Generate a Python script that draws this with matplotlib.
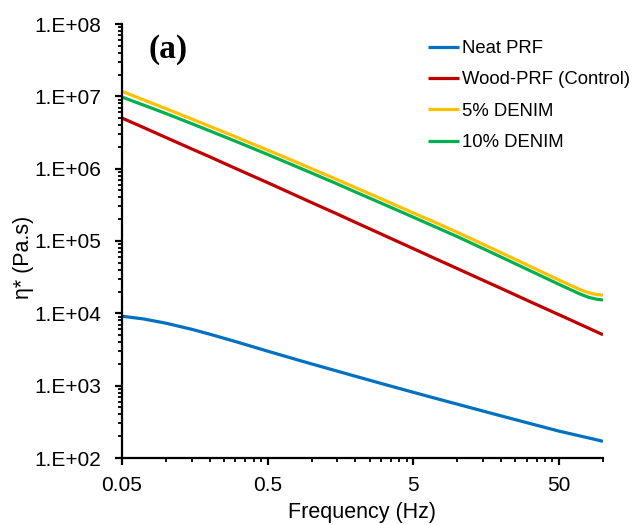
import numpy as np
import matplotlib
matplotlib.use("Agg")
import matplotlib.pyplot as plt
from matplotlib.ticker import FixedLocator, NullFormatter

# Oscillatory frequency sweep: complex viscosity of the resin systems
freq_hz = [0.05, 0.07, 0.1, 0.15, 0.2, 0.3, 0.5, 0.7, 1, 1.5, 2, 3, 5, 7, 10,
           15, 20, 30, 50, 60, 70, 80, 90, 100]

neat_prf = [9120, 8375, 7311, 6026, 5152, 4074, 2999, 2460, 2000, 1589, 1349,
            1074, 809, 673, 555, 446, 382, 308, 235, 216, 201, 189, 179, 170]
wood_prf = [5.01e6, 3.72e6, 2.70e6, 1.88e6, 1.46e6, 1.01e6, 6.40e5, 4.71e5,
            3.40e5, 2.36e5, 1.81e5, 1.25e5, 7.83e4, 5.75e4, 4.16e4, 2.87e4,
            2.21e4, 1.52e4, 9.55e3, 8.09e3, 7.02e3, 6.21e3, 5.57e3, 5.06e3]
denim_5 = [1.175e7, 8.97e6, 6.76e6, 4.88e6, 3.85e6, 2.77e6, 1.80e6, 1.36e6,
           1.00e6, 7.06e5, 5.47e5, 3.84e5, 2.44e5, 1.82e5, 1.32e5, 9.04e4,
           6.89e4, 4.69e4, 2.88e4, 2.44e4, 2.12e4, 1.92e4, 1.82e4, 1.78e4]
denim_10 = [9.77e6, 7.59e6, 5.79e6, 4.20e6, 3.33e6, 2.40e6, 1.57e6, 1.18e6,
            8.71e5, 6.15e5, 4.76e5, 3.34e5, 2.13e5, 1.58e5, 1.15e5, 7.87e4,
            6.00e4, 4.08e4, 2.51e4, 2.12e4, 1.84e4, 1.66e4, 1.57e4, 1.53e4]

series_names = ["Neat PRF", "Wood-PRF (Control)", "5% DENIM", "10% DENIM"]
series_values = [neat_prf, wood_prf, denim_5, denim_10]
series_colors = ["#0070C0", "#C00000", "#FFC000", "#00B050"]

x_ticks = [0.05, 0.5, 5, 50]
x_tick_labels = ["0.05", "0.5", "5", "50"]
y_ticks = [1e2, 1e3, 1e4, 1e5, 1e6, 1e7, 1e8]
y_tick_labels = ["1.E+02", "1.E+03", "1.E+04", "1.E+05", "1.E+06", "1.E+07", "1.E+08"]

plt.rcParams["font.family"] = ["Liberation Sans", "DejaVu Sans"]

fig = plt.figure(figsize=(6.36, 5.25), dpi=100)
ax = fig.add_axes([122 / 636, 1 - 458 / 525, (603 - 122) / 636, (458 - 24) / 525])

for name, vals, col in zip(series_names, series_values, series_colors):
    ax.plot(freq_hz, vals, color=col, lw=2.3, label=name,
            solid_capstyle="butt", solid_joinstyle="round")

ax.set_xscale("log")
ax.set_yscale("log")
ax.set_xlim(0.05, 100)
ax.set_ylim(1e2, 1e8)

ax.xaxis.set_major_locator(FixedLocator(x_ticks))
ax.set_xticklabels(x_tick_labels)
x_minor = [m * 10.0 ** e for e in range(-2, 3) for m in (1, 1.5, 2, 2.5, 3, 3.5, 4, 4.5)]
ax.xaxis.set_minor_locator(FixedLocator([v for v in x_minor if 0.05 < v <= 100.0001]))
ax.xaxis.set_minor_formatter(NullFormatter())

ax.yaxis.set_major_locator(FixedLocator(y_ticks))
ax.set_yticklabels(y_tick_labels)
y_minor = [m * 10.0 ** e for e in range(2, 8) for m in range(2, 10)]
ax.yaxis.set_minor_locator(FixedLocator(y_minor))
ax.yaxis.set_minor_formatter(NullFormatter())

for side in ("top", "right"):
    ax.spines[side].set_visible(False)
for side in ("left", "bottom"):
    ax.spines[side].set_linewidth(1.6)
    ax.spines[side].set_color("black")

ax.tick_params(axis="both", which="major", direction="out", length=5, width=1.6,
               labelsize=15, colors="black")
ax.tick_params(axis="both", which="minor", direction="out", length=3, width=1.3)
ax.tick_params(axis="y", which="major", pad=10)
ax.tick_params(axis="x", which="major", pad=8)

ax.set_xlabel("Frequency (Hz)", fontsize=15.5)
ax.set_ylabel("η* (Pa.s)", fontsize=15.5)
ax.xaxis.set_label_coords(0.5, -0.101)
ax.yaxis.set_label_coords(-0.183, 0.463)

ax.text(0.095, 0.942, "(a)", transform=ax.transAxes, fontsize=24, fontweight="bold",
        family="Liberation Serif", ha="center", va="center")

leg = ax.legend(loc="upper left", bbox_to_anchor=(0.62, 0.98), frameon=False,
                fontsize=13.3, handlelength=1.7, handletextpad=0.15,
                labelspacing=0.78, borderaxespad=0)

fig.savefig("out.png", dpi=100, facecolor="white")
